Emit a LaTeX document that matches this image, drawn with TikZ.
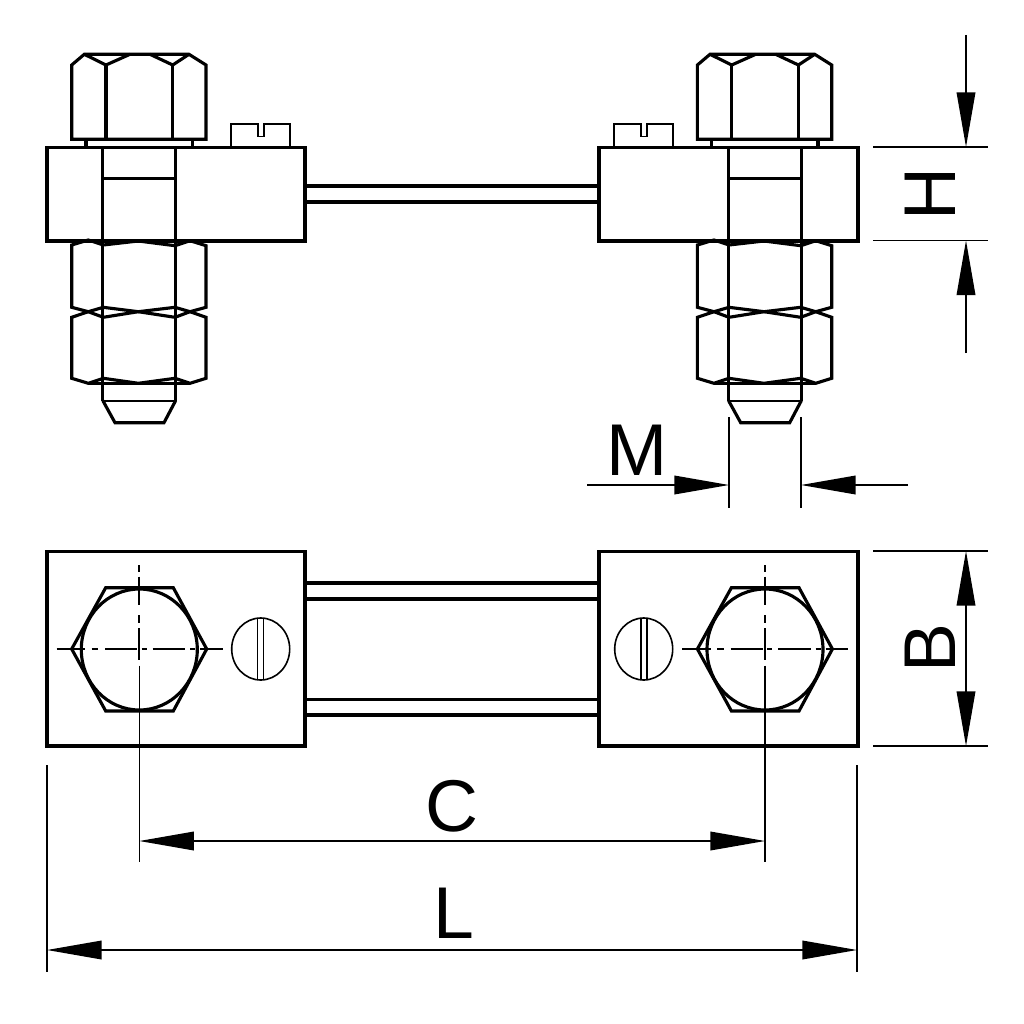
\documentclass[tikz,border=0pt]{standalone}
\usepackage{fontspec}
\setmainfont{Liberation Sans}
\usetikzlibrary{arrows.meta}
\tikzset{
  heavy/.style={line width=2.35pt,line join=miter,line cap=butt},
  fine/.style={line width=1.2pt},
  medium/.style={line width=1.5pt},
  dimline/.style={line width=1.05pt},
  centre/.style={line width=1.3pt},
  dimarrow/.style={line width=1.05pt,-{Triangle[length=41pt,width=14pt,fill=black]}},
  dimarrows/.style={line width=1.05pt,{Triangle[length=41pt,width=14pt,fill=black]}-{Triangle[length=41pt,width=14pt,fill=black]}},
  dimtext/.style={font=\fontsize{55}{55}\selectfont,inner sep=0pt,anchor=center}
}
\newcommand{\boltstack}[1]{%
\begin{scope}[xshift=#1*0.75pt]
 % top nut
 \draw[heavy] (71.7,139.3) -- (71.7,65) -- (84.3,54.3) -- (189,54.3) -- (206,65) -- (206,139.3) -- cycle;
 \draw[heavy] (106,139.3) -- (106,65) (172.7,139.3) -- (172.7,65);
 \draw[heavy] (84.3,54.3) -- (106,65) -- (130,54.3) (150,54.3) -- (172.7,65) -- (189,54.3);
 \draw[heavy] (86,139.3) -- (86,147.3) (192.3,139.3) -- (192.3,147.3);
 % bolt
 \draw[heavy] (102.9,147.3) -- (102.9,400.7) (175.6,147.3) -- (175.6,400.7);
 \draw[heavy] (102.9,178.3) -- (175.6,178.3);
 % lower nuts
 \draw[heavy] (71.7,245) -- (88.3,240) -- (103.3,245) -- (138.3,241) -- (175,245.7) -- (190,240.7) -- (206,245.7) -- (206,307.3) -- (190,311.7) -- (175,307.3) -- (138.3,311.7) -- (103.3,307.3) -- (88.3,311.7) -- (71.7,307.3) -- cycle;
 \draw[heavy] (71.7,317.3) -- (88.3,311.7) -- (103.3,317.3) -- (138.3,311.7) -- (175,317.3) -- (190,311.7) -- (206,317.3) -- (206,378.3) -- (190,383.3) -- (175,378.3) -- (138.3,383.3) -- (103.3,378.3) -- (88.3,383.3) -- (71.7,378.3) -- cycle;
 \draw[heavy] (88.3,383.3) -- (190,383.3);
 % tip
 \draw[medium] (102.9,400.7) -- (175.6,400.7);
 \draw[heavy] (102.9,400.7) -- (115,422.7) -- (164,422.7) -- (175.6,400.7);
 % hexagon and circle of plan view
 \draw[heavy] (71.7,649) -- (105.7,587.7) -- (173.3,587.7) -- (206.7,649) -- (173.3,711) -- (105.7,711) -- cycle;
 \draw[heavy] (139.3,649.5) ellipse (58 and 60.5);
 % centre lines
 \draw[centre] (56.7,649) -- (85,649) (91.7,649) -- (98.3,649) (105,649) -- (137.3,649) (141.7,649) -- (146.7,649) (152.7,649) -- (185,649) (190,649) -- (195,649) (200,649) -- (222.7,649);
 \draw[centre] (139.3,565) -- (139.3,572.3) (139.3,576.7) -- (139.3,605) (139.3,615) -- (139.3,623.3) (139.3,628.3) -- (139.3,660);
 \draw[dimline] (139.3,665.7) -- (139.3,862);
\end{scope}}
\begin{document}
\begin{tikzpicture}[x=0.75pt,y=-0.75pt]
\useasboundingbox (0,0) rectangle (1024,1024);
\fill[white] (0,0) rectangle (1024,1024);
% blocks elevation
\draw[heavy] (47,147.3) rectangle (305,241);
\draw[heavy] (599,147.3) rectangle (858,241);
\draw[heavy] (305,186) -- (599,186) (305,202) -- (599,202);
% screws elevation
\draw[fine] (231,147.3) -- (231,124) -- (257.7,124) -- (257.7,136.3) -- (263.7,136.3) -- (263.7,124) -- (290,124) -- (290,147.3);
\draw[fine] (614,147.3) -- (614,124) -- (640.7,124) -- (640.7,136.3) -- (646.7,136.3) -- (646.7,124) -- (673,124) -- (673,147.3);
% blocks plan
\draw[heavy] (47,551.5) rectangle (305,746);
\draw[heavy] (599,551.5) rectangle (858,746);
\draw[heavy] (305,583) -- (599,583) (305,599) -- (599,599) (305,699.3) -- (599,699.3) (305,715) -- (599,715);
% bolts
\boltstack{0}
\boltstack{625.7}
% screws plan
\draw[fine] (260.7,649) ellipse (29 and 31);
\draw[fine] (257.3,618) -- (257.3,680) (263.3,618) -- (263.3,680);
\draw[fine] (643.7,649) ellipse (29 and 31);
\draw[fine] (640.7,618) -- (640.7,680) (646.7,618) -- (646.7,680);
% dimensions
\coordinate (cl) at (139.3,841);
\coordinate (cr) at (765,841);
\coordinate (ll) at (47,950);
\coordinate (lr) at (857,950);
\coordinate (mla) at (587,485);
\coordinate (mlb) at (729,485);
\coordinate (mra) at (908,485);
\coordinate (mrb) at (801,485);
\coordinate (hua) at (966,35);
\coordinate (hub) at (966,147);
\coordinate (hla) at (966,353);
\coordinate (hlb) at (966,240.5);
\coordinate (bt) at (966,551);
\coordinate (bb) at (966,746);
\draw[dimline] (47,765) -- (47,972) (857,765) -- (857,972);
\draw[dimline] (729,417) -- (729,508) (801,417) -- (801,508);
\draw[dimline] (873,147) -- (988,147) (873,240.5) -- (988,240.5);
\draw[dimline] (873,551) -- (988,551) (873,746) -- (988,746);
\draw[dimarrows] (cl) -- (cr);
\draw[dimarrows] (ll) -- (lr);
\draw[dimarrow] (mla) -- (mlb);
\draw[dimarrow] (mra) -- (mrb);
\draw[dimarrow] (hua) -- (hub);
\draw[dimarrow] (hla) -- (hlb);
\draw[dimarrows] (bt) -- (bb);
\node[dimtext] (tC) at (452,806.5) {C};
\node[dimtext] (tL) at (454,913) {L};
\node[dimtext] (tM) at (637.5,450) {M};
\node[dimtext,rotate=90] (tH) at (930,194) {H};
\node[dimtext,rotate=90] (tB) at (930,648) {B};
\end{tikzpicture}
\end{document}
